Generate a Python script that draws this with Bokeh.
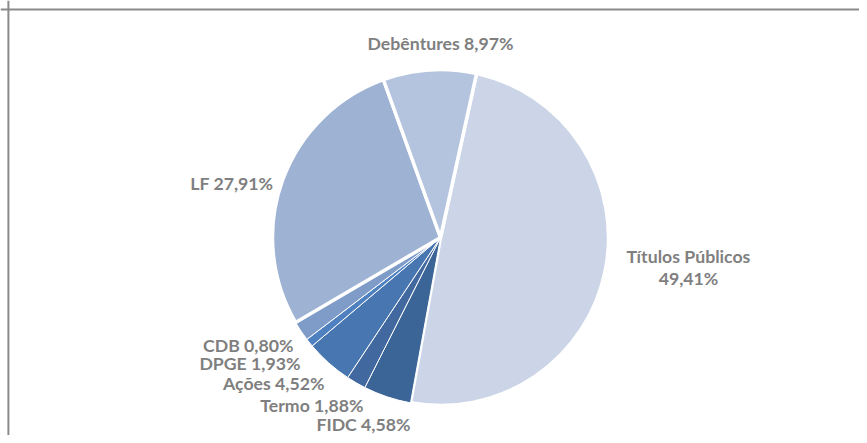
import numpy as np
from bokeh.plotting import figure
from bokeh.models import ColumnDataSource, Range1d, Span
from bokeh.core.properties import value
from bokeh.embed import file_html
from bokeh.resources import INLINE

# ---- data (clockwise from the top) ----
categories = ["Títulos Públicos", "FIDC", "Termo", "Ações", "CDB", "DPGE", "LF", "Debêntures"]
shares = [49.41, 4.58, 1.88, 4.52, 0.80, 1.93, 27.91, 8.97]
colors = ["#cbd5e7", "#3b6497", "#4169a0", "#4876b0", "#4f80c0", "#7f9cc8", "#9eb2d4", "#b5c4de"]
labels = ["Títulos Públicos\n49,41%", "FIDC 4,58%", "Termo 1,88%", "Ações 4,52%",
          "CDB 0,80%", "DPGE 1,93%", "LF 27,91%", "Debêntures 8,97%"]

W, H = 859, 435

# label anchors (pixels from the top-left corner) and anchor types
label_px = [688, 410, 363, 324, 293, 300, 273, 440]
label_py = [267, 434, 405, 383, 345, 363, 183, 43]
label_anchor = ["center", "bottom_right", "center_right", "center_right",
                "center_right", "center_right", "center_right", "center"]
label_align = ["center", "right", "right", "right", "right", "right", "right", "center"]

CX, CY, R = 440, H - 237, 168
OFFSET = np.deg2rad(12.4)

frac = np.array(shares) / np.sum(shares)
cum_end = np.cumsum(frac)
cum_start = cum_end - frac
start = np.pi / 2 - OFFSET - cum_start * 2 * np.pi
end = np.pi / 2 - OFFSET - cum_end * 2 * np.pi
lw = [3.5 if s > 5.0 else 1.0 for s in shares]

src = ColumnDataSource(dict(start=start, end=end, color=colors, lw=lw,
                            x=[CX] * len(shares), y=[CY] * len(shares)))

p = figure(width=W, height=H, output_backend="svg", toolbar_location=None,
           x_range=Range1d(0, W), y_range=Range1d(0, H),
           min_border=0, min_border_left=0, min_border_right=0,
           min_border_top=0, min_border_bottom=0)
p.xaxis.visible = False
p.yaxis.visible = False
p.grid.visible = False
p.outline_line_color = None
p.background_fill_color = "white"
p.border_fill_color = "white"

p.wedge(x="x", y="y", radius=R, start_angle="start", end_angle="end",
        direction="clock", fill_color="color", line_color="white", line_width="lw",
        source=src)

lsrc = ColumnDataSource(dict(x=label_px, y=[H - v for v in label_py],
                             text=labels, anchor=label_anchor, align=label_align))
p.text(x="x", y="y", text="text", anchor="anchor", text_align="align", source=lsrc,
       text_font=value("Lato"), text_font_style="bold", text_font_size="17.7px",
       text_color="#7f7f7f", text_line_height=1.07)

# chart-area frame (left and top edges visible)
p.add_layout(Span(location=7.9, dimension="height", line_color="#8a8a8a", line_width=2))
p.add_layout(Span(location=H - 8.9, dimension="width", line_color="#8a8a8a", line_width=2))

open("out.html", "w").write(file_html(p, INLINE))
